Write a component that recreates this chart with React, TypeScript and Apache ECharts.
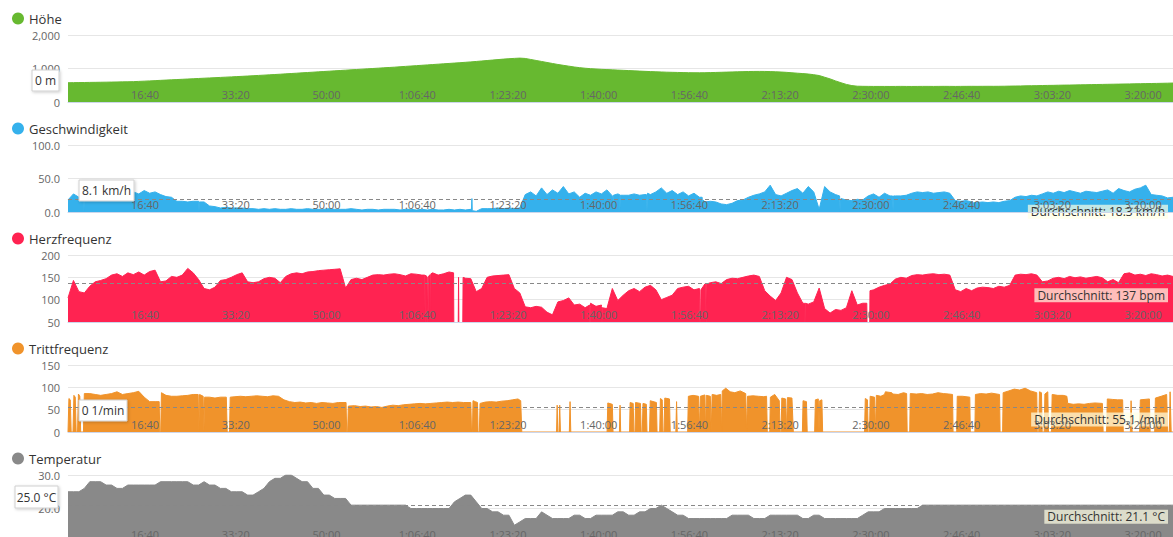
import React, { useEffect, useRef } from "react";
import * as echarts from "echarts";

// time axis (seconds since start); regular series sampled every 60 s
const START_SEC = 150;
const STEP_SEC = 60;
const X_MIN = 150;
const X_MAX = 12330;
const X_TICKS = [1000, 2000, 3000, 4000, 5000, 6000, 7000, 8000, 9000, 10000, 11000, 12000];

const NAMES = ["Höhe", "Geschwindigkeit", "Herzfrequenz", "Trittfrequenz", "Temperatur"];
const COLORS = ["#67b930", "#35b1ec", "#ff2351", "#f0932b", "#898989"];

const ELEVATION = [
  575, 578, 580, 582, 585, 587, 590, 592, 595, 598,
  601, 604, 608, 615, 622, 630, 638, 646, 654, 662,
  670, 678, 686, 694, 702, 710, 718, 726, 734, 742,
  750, 758, 766, 775, 784, 793, 802, 811, 820, 830,
  840, 850, 860, 870, 880, 890, 900, 910, 920, 930,
  940, 950, 960, 970, 980, 990, 1000, 1010, 1020, 1030,
  1040, 1052, 1063, 1074, 1085, 1096, 1107, 1118, 1129, 1140,
  1151, 1162, 1173, 1185, 1197, 1210, 1224, 1238, 1252, 1266,
  1280, 1292, 1302, 1310, 1300, 1270, 1240, 1210, 1180, 1150,
  1120, 1095, 1070, 1045, 1025, 1008, 995, 985, 975, 968,
  960, 952, 945, 938, 930, 922, 915, 908, 902, 896,
  890, 886, 882, 878, 875, 873, 872, 874, 878, 882,
  887, 892, 897, 902, 906, 910, 912, 913, 912, 908,
  902, 895, 885, 872, 860, 848, 835, 815, 790, 740,
  690, 630, 575, 525, 490, 472, 468, 466, 465, 465,
  465, 464, 465, 466, 465, 464, 465, 466, 466, 465,
  466, 467, 466, 465, 466, 467, 468, 467, 468, 469,
  468, 469, 471, 474, 477, 479, 483, 486, 488, 492,
  495, 497, 501, 504, 506, 510, 513, 515, 519, 522,
  525, 528, 531, 534, 537, 540, 543, 546, 549, 552,
  555, 558, 562, 566,
];

const SPEED = [
  18, 27, 22, 24, 25, 26, 24, 27, 25, 28,
  24, 26, 30, 27, 32, 28, 30, 26, 23, 22,
  16, 16, 15, 16, 16, 15, 9, 8, 6, 7,
  6, 6, 6, 5, 5, 4, 5, 4, 5, 4,
  4, 5, 4, 4, 5, 4, 4, 4, 5, 4,
  4, 4, 5, 4, 3, 4, 4, 3, 4, 4,
  4, 3, 4, 4, 3, 4, 3, 4, 3, 3,
  4, 3, 4, 3, 4, 1, 5, 5, 5, 6,
  5, 6, 5, 6, 26, 30, 24, 36, 26, 33,
  28, 38, 27, 30, 22, 28, 25, 30, 27, 33,
  24, 27, 25, 25, 27, 25, 26, 26, 30, 36,
  28, 32, 26, 30, 24, 28, 22, 15, 16, 15,
  12, 11, 13, 17, 18, 22, 25, 27, 30, 40,
  26, 24, 28, 32, 35, 28, 38, 30, 4, 38,
  30, 26, 20, 18, 17, 19, 18, 24, 27, 22,
  28, 24, 24, 24, 25, 28, 30, 29, 30, 28,
  29, 30, 28, 17, 16, 17, 15, 14, 15, 14,
  15, 14, 16, 17, 22, 24, 23, 25, 24, 27,
  30, 28, 31, 29, 32, 30, 28, 31, 30, 29,
  31, 33, 28, 35, 32, 30, 34, 36, 40, 26,
  25, 24, 21, 22,
];
// short drop-outs / spikes read between the regular samples: [seconds, km/h]
const SPEED_EXTRA = [
  [322, 22], [326, 0],
  [1594, 0], [1598, 15],
  [4598, 4], [4602, 20], [4606, 2],
  [6154, 24], [6158, 2], [6162, 25], [6230, 26], [6234, 2], [6238, 25],
  [6526, 26], [6532, 1], [6538, 28],
  [7140, 22], [7146, 3], [7152, 18],
  [8655, 24], [8660, 1], [8665, 18],
  [9238, 24], [9244, 2], [9250, 24],
  [10120, 15], [10126, 1], [10132, 14],
];

const HEART_RATE = [
  104, 143, 118, 115, 130, 140, 143, 147, 155, 158,
  152, 160, 156, 162, 155, 163, 166, 140, 142, 152,
  150, 155, 170, 160, 145, 125, 122, 128, 143, 145,
  150, 156, 160, 140, 138, 140, 147, 150, 148, 138,
  152, 158, 160, 158, 162, 163, 165, 166, 167, 168,
  169, 126, 145, 148, 145, 150, 155, 156, 155, 157,
  158, 156, 153, 158, 157, 155, 150, 160, 155, 158,
  162, 0, 0, 148, 147, 118, 125, 150, 153, 154,
  155, 156, 125, 115, 84, 82, 85, 83, 72, 66,
  95, 98, 104, 88, 90, 82, 92, 85, 88, 80,
  125, 98, 110, 120, 125, 118, 128, 132, 122, 100,
  105, 110, 125, 128, 130, 122, 125, 135, 138, 140,
  136, 145, 148, 147, 150, 153, 155, 152, 120, 108,
  98, 115, 150, 145, 115, 92, 90, 95, 126, 80,
  70, 78, 76, 82, 120, 88, 92, 0, 122, 128,
  132, 135, 146, 150, 148, 154, 156, 155, 157, 158,
  156, 157, 155, 122, 118, 125, 120, 126, 128, 127,
  125, 130, 128, 132, 155, 157, 156, 158, 155, 140,
  142, 148, 150, 147, 152, 149, 151, 148, 150, 152,
  149, 140, 145, 138, 158, 160, 155, 157, 154, 158,
  156, 153, 155, 152,
];
const HEART_RATE_EXTRA = [
  [4083, 155], [4087, 0], [4091, 155], [4113, 150], [4117, 0], [4121, 152], [4143, 156], [4147, 0], [4151, 158],
  [4400, 160], [4404, 0], [4450, 0], [4455, 150], [4460, 0], [4500, 0], [4505, 150],
  [5900, 88], [5904, 0], [5908, 85], [6030, 85], [6034, 0], [6038, 82],
  [7116, 125], [7120, 0], [7126, 122], [7180, 134], [7184, 0], [7190, 135],
  [8268, 92], [8272, 0], [8276, 92],
  [8955, 92], [8960, 0], [8985, 0], [8990, 120],
];

// cadence read as [seconds, 1/min] (many pauses)
const CADENCE = [
  [150, 0], [160, 75], [175, 72], [185, 0], [205, 0], [215, 82], [230, 78], [240, 0], [255, 0], [265, 85], [280, 80], [290, 0], [320, 0], [330, 86],
  [390, 86], [450, 84], [510, 82], [570, 84], [630, 86], [690, 90], [750, 84], [810, 86], [870, 88], [930, 91], [990, 78], [1050, 68], [1110, 68],
  [1155, 68], [1162, 0], [1172, 0], [1180, 88], [1230, 82], [1290, 80], [1350, 80], [1410, 81], [1470, 82], [1530, 84],
  [1585, 84], [1592, 0], [1600, 84], [1640, 80], [1648, 0], [1656, 78], [1710, 78], [1770, 76], [1830, 78], [1895, 78], [1905, 0], [1930, 0], [1938, 78],
  [1990, 79], [2050, 80], [2110, 79], [2170, 80], [2230, 81], [2290, 80], [2350, 79], [2410, 81], [2470, 80], [2530, 72], [2590, 68], [2650, 66],
  [2710, 67], [2770, 65], [2830, 66], [2890, 64], [2950, 66], [3010, 65], [3070, 64], [3130, 66], [3215, 66], [3222, 0], [3232, 0], [3240, 58],
  [3310, 59], [3370, 57], [3430, 58], [3490, 56], [3550, 57], [3610, 55], [3670, 58], [3730, 60], [3790, 59], [3850, 61], [3910, 62], [3970, 63],
  [4030, 64], [4090, 63], [4150, 64], [4210, 65], [4270, 66], [4330, 67], [4390, 66], [4450, 67], [4510, 66], [4570, 66],
  [4590, 66], [4598, 0], [4608, 0], [4614, 70], [4640, 68], [4664, 66], [4670, 0], [4684, 0], [4692, 64], [4750, 67], [4810, 68], [4870, 67],
  [4930, 69], [4990, 70], [5050, 72], [5110, 74], [5140, 70], [5152, 0],
  [5535, 0], [5542, 60], [5548, 0], [5562, 0], [5570, 60], [5578, 0], [5676, 0], [5684, 68], [5692, 0],
  [6092, 0], [6100, 65], [6150, 62], [6158, 0], [6228, 0], [6235, 60], [6242, 0],
  [6340, 0], [6346, 66], [6380, 64], [6388, 0], [6400, 0], [6406, 66], [6460, 64], [6468, 0], [6480, 0], [6488, 64], [6525, 62], [6532, 0],
  [6560, 0], [6568, 70], [6636, 66], [6643, 0], [6672, 0], [6680, 75], [6700, 72], [6708, 0], [6720, 0], [6728, 76], [6780, 74], [6788, 0],
  [6850, 0], [6858, 68], [6866, 0],
  [6980, 0], [6988, 80], [7040, 82], [7100, 80], [7110, 0], [7120, 80], [7170, 83], [7178, 0], [7186, 82], [7230, 80], [7240, 0], [7250, 84],
  [7300, 82], [7345, 84], [7355, 0], [7362, 92], [7400, 98], [7450, 90], [7500, 88], [7560, 92], [7620, 86], [7630, 0], [7640, 80], [7700, 81],
  [7760, 80], [7820, 79], [7850, 80], [7858, 0], [7885, 0], [7892, 78],
  [7940, 84], [7990, 70], [8000, 0], [8010, 0], [8018, 76], [8060, 74], [8070, 0], [8080, 77], [8130, 76], [8145, 0],
  [8245, 0], [8252, 70], [8290, 68], [8298, 0], [8380, 0], [8388, 72], [8420, 74], [8428, 0], [8436, 70], [8460, 72], [8468, 0],
  [8930, 0], [8938, 75], [8962, 72], [8970, 0], [8985, 0], [8992, 80], [9040, 78], [9050, 0], [9060, 82], [9110, 80], [9150, 84], [9160, 90],
  [9230, 88], [9240, 85], [9300, 84], [9360, 88], [9394, 86], [9400, 0], [9428, 0], [9434, 86],
  [9500, 85], [9560, 86], [9620, 84], [9680, 85], [9740, 88], [9800, 86], [9860, 85], [9900, 84], [9906, 0], [9946, 0], [9952, 80], [10010, 80],
  [10090, 78], [10096, 0], [10146, 0], [10152, 84], [10210, 86], [10270, 85], [10330, 87], [10418, 84], [10424, 0], [10452, 0], [10458, 88],
  [10520, 92], [10580, 96], [10640, 94], [10700, 98], [10760, 92], [10828, 88],
  [10834, 0], [10850, 0], [10858, 90], [10880, 88], [10888, 0], [10910, 0], [10918, 85], [10950, 90], [10958, 0], [10990, 0], [10998, 84],
  [11060, 82], [11120, 82], [11160, 80], [11170, 64], [11230, 62], [11290, 63], [11350, 62], [11410, 64], [11470, 65], [11552, 64], [11560, 0],
  [11598, 0], [11606, 74], [11660, 73], [11720, 72], [11775, 72], [11782, 0], [11860, 0], [11868, 70], [11880, 0],
  [11962, 0], [11970, 72], [12070, 74], [12078, 0], [12128, 0], [12136, 76], [12200, 80], [12260, 84], [12272, 0], [12290, 0], [12298, 90],
  [12310, 0], [12330, 0],
];

const TEMPERATURE = [
  25, 25, 25, 26, 28, 28, 28, 27, 27, 26,
  26, 27, 27, 27, 27, 27, 27, 28, 28, 28,
  28, 28, 28, 27, 27, 28, 27, 27, 26, 26,
  25, 25, 25, 24, 24, 25, 26, 28, 29, 29,
  30, 30, 29, 28, 28, 26, 26, 24, 24, 23,
  23, 23, 21, 21, 21, 21, 21, 21, 21, 21,
  21, 21, 21, 20, 20, 20, 20, 20, 20, 20,
  20, 22, 23, 24, 24, 22, 20, 20, 19, 19,
  18, 18, 15, 16, 17, 17, 17, 19, 18, 17,
  17, 17, 17, 18, 18, 17, 17, 18, 18, 18,
  18, 19, 19, 18, 18, 19, 19, 20, 20, 21,
  20, 19, 18, 18, 17, 17, 17, 17, 17, 17,
  17, 17, 18, 18, 18, 18, 17, 17, 17, 18,
  18, 18, 18, 18, 18, 17, 17, 18, 18, 17,
  17, 17, 17, 17, 17, 17, 18, 19, 19, 19,
  20, 20, 20, 20, 20, 20, 20, 21, 21, 21,
  21, 21, 21, 21, 21, 21, 21, 21, 21, 21,
  21, 21, 21, 21, 21, 21, 21, 21, 21, 21,
  21, 21, 21, 21, 21, 21, 21, 21, 21, 21,
  21, 21, 21, 21, 21, 21, 21, 21, 21, 21,
  21, 21, 21, 21,
];

const Y_MIN = [0, 0, 50, 0, 10];
const Y_MAX = [2000, 100, 200, 150, 30];
const Y_INTERVAL = [1000, 50, 50, 50, 10];
const Y_DECIMALS = [0, 1, 0, 0, 1];

const AVERAGES = [null, 18.3, 137, 55.1, 21.1];
const AVERAGE_LABELS = [
  null,
  "Durchschnitt: 18.3 km/h",
  "Durchschnitt: 137 bpm",
  "Durchschnitt: 55.1 /min",
  "Durchschnitt: 21.1 °C",
];

const CURSOR_TEXTS = ["0 m", "8.1 km/h", "0 1/min", "25.0 °C"];
const CURSOR_BOXES = [
  { x: 32, y: 70, w: 27, h: 21 },
  { x: 79, y: 180, w: 55, h: 21 },
  { x: 79, y: 400, w: 48, h: 21 },
  { x: 15, y: 486, w: 43, h: 22 },
];

const PANEL_H = 110;
const FONT = "'Open Sans', 'Noto Sans', sans-serif";

function gridPairs(values: number[]): number[][] {
  return values.map((v, i) => [START_SEC + STEP_SEC * i, v]);
}
function merged(values: number[], extra: number[][]): number[][] {
  return gridPairs(values).concat(extra).sort((a, b) => a[0] - b[0]);
}

const SERIES_DATA = [
  gridPairs(ELEVATION),
  merged(SPEED, SPEED_EXTRA),
  merged(HEART_RATE, HEART_RATE_EXTRA),
  CADENCE.slice().sort((a, b) => a[0] - b[0]),
  gridPairs(TEMPERATURE),
];

function fmtTime(v: number): string {
  const s = Math.round(v);
  const h = Math.floor(s / 3600);
  const m = Math.floor((s % 3600) / 60);
  const sec = s % 60;
  const pad = (n: number) => (n < 10 ? "0" + n : "" + n);
  return h > 0 ? `${h}:${pad(m)}:${pad(sec)}` : `${pad(m)}:${pad(sec)}`;
}

function fmtY(k: number) {
  return (v: number) => {
    if (Y_DECIMALS[k] > 0) return v.toFixed(Y_DECIMALS[k]);
    return v.toLocaleString("en-US");
  };
}

export default function App() {
  const ref = useRef<HTMLDivElement>(null);

  useEffect(() => {
    if (!ref.current) return;
    const chart = echarts.init(ref.current, null, { renderer: "svg" });

    const option: any = {
      animation: false,
      textStyle: { fontFamily: FONT },
      legend: NAMES.map((n, k) => ({
        data: [n],
        top: PANEL_H * k + 7,
        left: 7,
        icon: "circle",
        itemWidth: 12,
        itemHeight: 12,
        selectedMode: false,
        textStyle: { fontSize: 13, color: "#333", fontFamily: FONT },
      })),
      grid: NAMES.map((_, k) => ({
        left: 68,
        right: 0,
        top: PANEL_H * k + 35,
        height: 67,
      })),
      xAxis: NAMES.map((_, k) => ({
        type: "value",
        gridIndex: k,
        min: X_MIN,
        max: X_MAX,
        z: 10,
        axisLine: { show: true, onZero: false, lineStyle: { color: "#ccd6eb" } },
        axisTick: { show: false },
        splitLine: { show: false },
        axisLabel: {
          inside: true,
          margin: 2,
          color: "#666",
          fontSize: 11,
          fontFamily: FONT,
          customValues: X_TICKS,
          formatter: (v: number) => fmtTime(v),
        },
      })),
      yAxis: NAMES.map((_, k) => ({
        type: "value",
        gridIndex: k,
        min: Y_MIN[k],
        max: Y_MAX[k],
        interval: Y_INTERVAL[k],
        axisLine: { show: false },
        axisTick: { show: false },
        splitLine: { lineStyle: { color: "#e6e6e6" } },
        axisLabel: {
          color: "#666",
          fontSize: 11,
          margin: 8,
          fontFamily: FONT,
          formatter: fmtY(k),
        },
      })),
      series: NAMES.map((n, k) => {
        const s: any = {
          type: "line",
          name: n,
          xAxisIndex: k,
          yAxisIndex: k,
          data: SERIES_DATA[k],
          showSymbol: false,
          symbol: "none",
          silent: true,
          clip: true,
          color: COLORS[k],
          lineStyle: { width: 1, color: COLORS[k] },
          areaStyle: { color: COLORS[k], opacity: 1 },
        };
        if (AVERAGES[k] !== null) {
          s.markLine = {
            silent: true,
            symbol: "none",
            data: [{ yAxis: AVERAGES[k] }],
            lineStyle: { type: [4, 3], color: "#888", width: 1 },
            label: {
              position: "insideEndBottom",
              formatter: AVERAGE_LABELS[k],
              color: "#333",
              fontSize: 12,
              fontFamily: FONT,
              backgroundColor: "rgba(255,255,230,0.7)",
              padding: [1, 3],
            },
          };
        }
        return s;
      }),
      graphic: CURSOR_TEXTS.map((t, i) => {
        const b = CURSOR_BOXES[i];
        return {
          type: "group",
          x: b.x,
          y: b.y,
          z: 100,
          children: [
            {
              type: "rect",
              z: 100,
              shape: { x: 0, y: 0, width: b.w, height: b.h },
              style: {
                fill: "#fff",
                stroke: "#d0d0d0",
                lineWidth: 1,
                shadowBlur: 3,
                shadowColor: "rgba(0,0,0,0.2)",
                shadowOffsetX: 1,
                shadowOffsetY: 1,
              },
            },
            {
              type: "text",
              z: 101,
              x: b.w / 2,
              y: b.h / 2,
              style: {
                text: t,
                fill: "#333",
                fontSize: 12,
                fontFamily: FONT,
                align: "center",
                verticalAlign: "middle",
                textAlign: "center",
                textVerticalAlign: "middle",
              },
            },
          ],
        };
      }),
    };

    chart.setOption(option);
    return () => chart.dispose();
  }, []);

  return (
    <div style={{ position: "fixed", left: 0, top: 0, width: 1173, height: 537, overflow: "hidden", background: "#fff" }}>
      <div ref={ref} style={{ width: 1173, height: 560 }} />
    </div>
  );
}
